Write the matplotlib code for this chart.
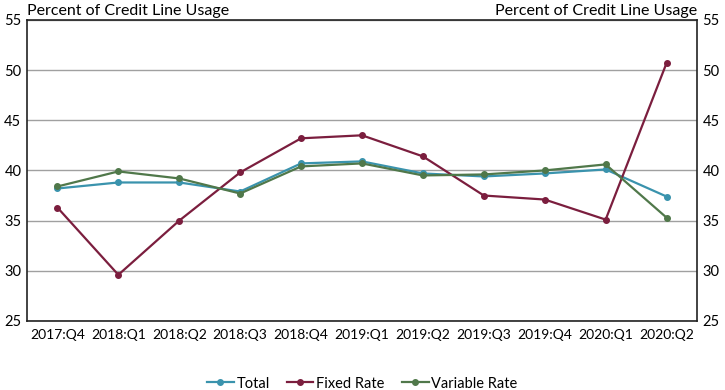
import numpy as np
import matplotlib
matplotlib.use('Agg')
import matplotlib.pyplot as plt

plt.rcParams['font.family'] = ['Lato', 'DejaVu Sans']

quarters = ['2017:Q4', '2018:Q1', '2018:Q2', '2018:Q3', '2018:Q4', '2019:Q1',
            '2019:Q2', '2019:Q3', '2019:Q4', '2020:Q1', '2020:Q2']
total = [38.2, 38.8, 38.8, 37.9, 40.7, 40.9, 39.7, 39.4, 39.7, 40.1, 37.4]
fixed_rate = [36.3, 29.6, 35.0, 39.8, 43.2, 43.5, 41.4, 37.5, 37.1, 35.1, 50.7]
variable_rate = [38.4, 39.9, 39.2, 37.7, 40.4, 40.7, 39.5, 39.6, 40.0, 40.6, 35.3]
y_ticks = [25, 30, 35, 40, 45, 50, 55]

fig = plt.figure(figsize=(7.25, 3.9), dpi=100)
ax = fig.add_axes([0.0372, 0.177, 0.9242, 0.772])

x = np.arange(len(quarters))
ax.plot(x, total, color='#3a93ad', lw=1.6, marker='o', ms=4, label='Total', zorder=3)
ax.plot(x, fixed_rate, color='#7b1e3e', lw=1.6, marker='o', ms=4, label='Fixed Rate', zorder=3)
ax.plot(x, variable_rate, color='#50784a', lw=1.6, marker='o', ms=4, label='Variable Rate', zorder=3)

ax.set_xlim(-0.5, len(quarters) - 0.5)
ax.set_ylim(25, 55)
ax.set_yticks(y_ticks)
ax.set_xticks(x)
ax.set_xticklabels(quarters)
ax.tick_params(axis='both', length=0, labelsize=10.5, pad=4)
ax.tick_params(axis='x', labelsize=10, pad=6)
ax.tick_params(axis='y', labelright=True, right=False)
ax.yaxis.grid(True, color='#a0a0a0', lw=1)
ax.set_axisbelow(True)
for s in ax.spines.values():
    s.set_color('#222222')
    s.set_linewidth(1.2)

ax.text(0, 1.005, 'Percent of Credit Line Usage', transform=ax.transAxes,
        ha='left', va='bottom', fontsize=11.5)
ax.text(1, 1.005, 'Percent of Credit Line Usage', transform=ax.transAxes,
        ha='right', va='bottom', fontsize=11.5)

fig.legend(loc='lower center', bbox_to_anchor=(0.5, -0.035), ncol=3, frameon=False,
           fontsize=10.5, handlelength=1.8, columnspacing=1.2, handletextpad=0.2)

fig.savefig('out.png', dpi=100)
